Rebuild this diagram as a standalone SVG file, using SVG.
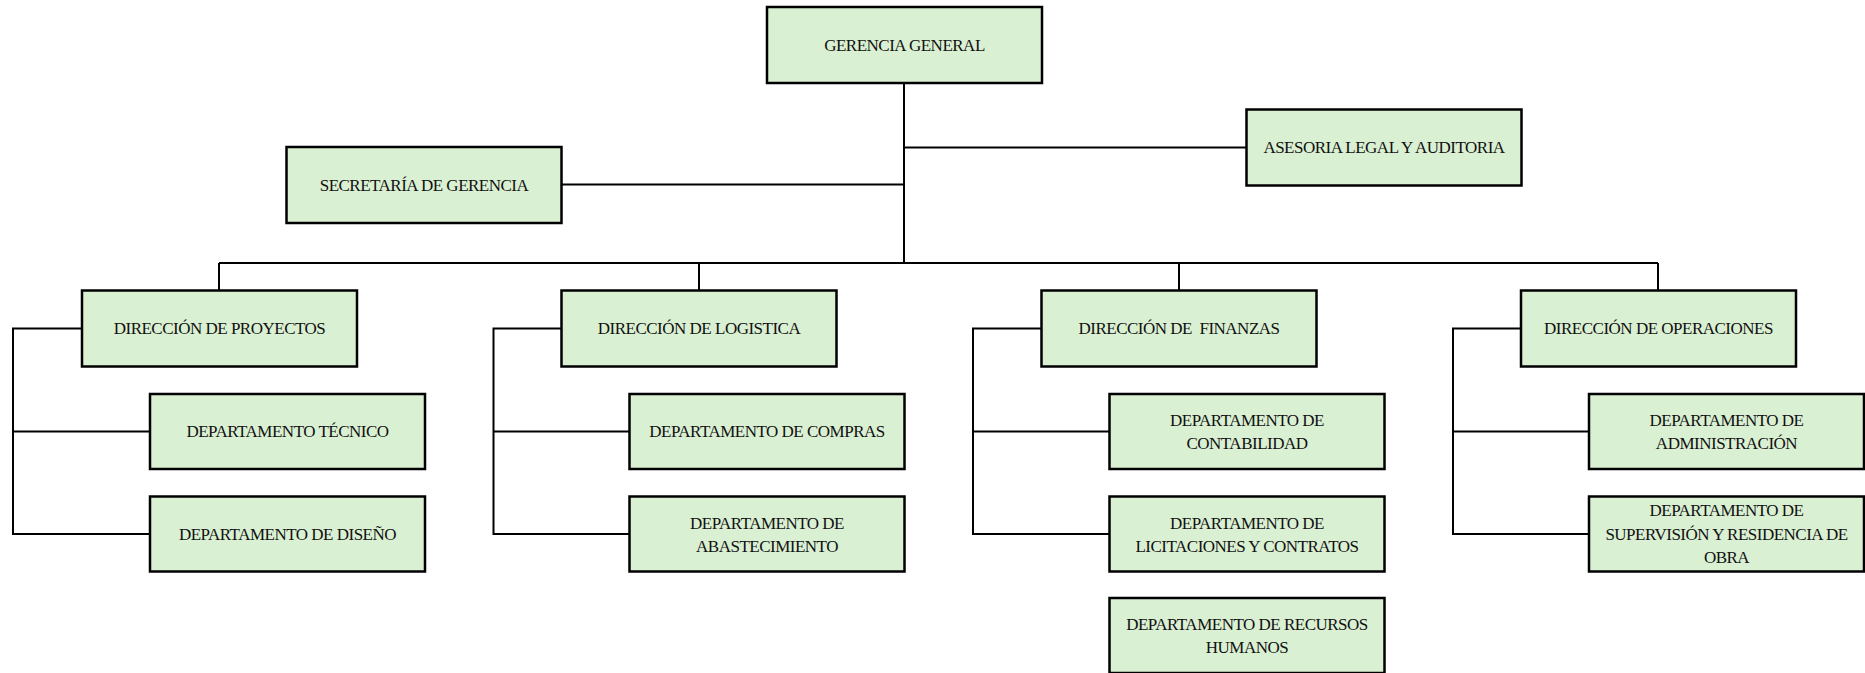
<svg xmlns="http://www.w3.org/2000/svg" width="1865" height="673" viewBox="0 0 1865 673">
<style>
.box{fill:#DAF0D3;stroke:#000;stroke-width:2.5}
.t{font-family:"Liberation Serif","Times New Roman",serif;font-size:17px;fill:#111;text-anchor:middle;letter-spacing:-0.5px}
.ln{fill:none;stroke:#000;stroke-width:2}
</style>
<rect width="1865" height="673" fill="#fff"/>
<g id="connectors" class="ln">
<path d="M904 83V263"/>
<path d="M904 147.5H1246.5"/>
<path d="M561.5 184.5H904"/>
<path d="M219 263H1658"/>
<path d="M219 263V290.5M699 263V290.5M1179 263V290.5M1658 263V290.5"/>
<path d="M82 328.5H13V534H150M13 431.5H150"/>
<path d="M561.5 328.5H493.5V534H629.5M493.5 431.5H629.5"/>
<path d="M1041.5 328.5H973V534H1109.5M973 431.5H1109.5"/>
<path d="M1521 328.5H1453V534H1589M1453 431.5H1589"/>
</g>
<g id="gerencia"><rect class="box" x="767" y="7" width="275" height="76"/><text class="t" x="904.5" y="50.8">GERENCIA GENERAL</text></g>
<g id="asesoria"><rect class="box" x="1246.5" y="109.5" width="275" height="76"/><text class="t" x="1384" y="153.3">ASESORIA LEGAL Y AUDITORIA</text></g>
<g id="secretaria"><rect class="box" x="286.5" y="147" width="275" height="76"/><text class="t" x="424" y="190.8">SECRETARÍA DE GERENCIA</text></g>
<g id="dir-proyectos"><rect class="box" x="82" y="290.5" width="275" height="76"/><text class="t" x="219.5" y="334.3">DIRECCIÓN DE PROYECTOS</text></g>
<g id="dir-logistica"><rect class="box" x="561.5" y="290.5" width="275" height="76"/><text class="t" x="699" y="334.3">DIRECCIÓN DE LOGISTICA</text></g>
<g id="dir-finanzas"><rect class="box" x="1041.5" y="290.5" width="275" height="76"/><text class="t" x="1179" y="334.3" xml:space="preserve">DIRECCIÓN DE  FINANZAS</text></g>
<g id="dir-operaciones"><rect class="box" x="1521" y="290.5" width="275" height="76"/><text class="t" x="1658.5" y="334.3">DIRECCIÓN DE OPERACIONES</text></g>
<g id="dep-tecnico"><rect class="box" x="150" y="394" width="275" height="75"/><text class="t" x="287.5" y="437.3">DEPARTAMENTO TÉCNICO</text></g>
<g id="dep-diseno"><rect class="box" x="150" y="496.5" width="275" height="75"/><text class="t" x="287.5" y="539.8">DEPARTAMENTO DE DISEÑO</text></g>
<g id="dep-compras"><rect class="box" x="629.5" y="394" width="275" height="75"/><text class="t" x="767" y="437.3">DEPARTAMENTO DE COMPRAS</text></g>
<g id="dep-abastecimiento"><rect class="box" x="629.5" y="496.5" width="275" height="75"/><text class="t" x="767" y="528.5">DEPARTAMENTO DE</text><text class="t" x="767" y="551.5">ABASTECIMIENTO</text></g>
<g id="dep-contabilidad"><rect class="box" x="1109.5" y="394" width="275" height="75"/><text class="t" x="1247" y="426">DEPARTAMENTO DE</text><text class="t" x="1247" y="449">CONTABILIDAD</text></g>
<g id="dep-licitaciones"><rect class="box" x="1109.5" y="496.5" width="275" height="75"/><text class="t" x="1247" y="528.5">DEPARTAMENTO DE</text><text class="t" x="1247" y="551.5">LICITACIONES Y CONTRATOS</text></g>
<g id="dep-rrhh"><rect class="box" x="1109.5" y="598" width="275" height="75"/><text class="t" x="1247" y="630">DEPARTAMENTO DE RECURSOS</text><text class="t" x="1247" y="653">HUMANOS</text></g>
<g id="dep-administracion"><rect class="box" x="1589" y="394" width="275" height="75"/><text class="t" x="1726.5" y="426">DEPARTAMENTO DE</text><text class="t" x="1726.5" y="449">ADMINISTRACIÓN</text></g>
<g id="dep-supervision"><rect class="box" x="1589" y="496.5" width="275" height="75"/><text class="t" x="1726.5" y="516">DEPARTAMENTO DE</text><text class="t" x="1726.5" y="539.5">SUPERVISIÓN Y RESIDENCIA DE</text><text class="t" x="1726.5" y="563">OBRA</text></g>
</svg>
